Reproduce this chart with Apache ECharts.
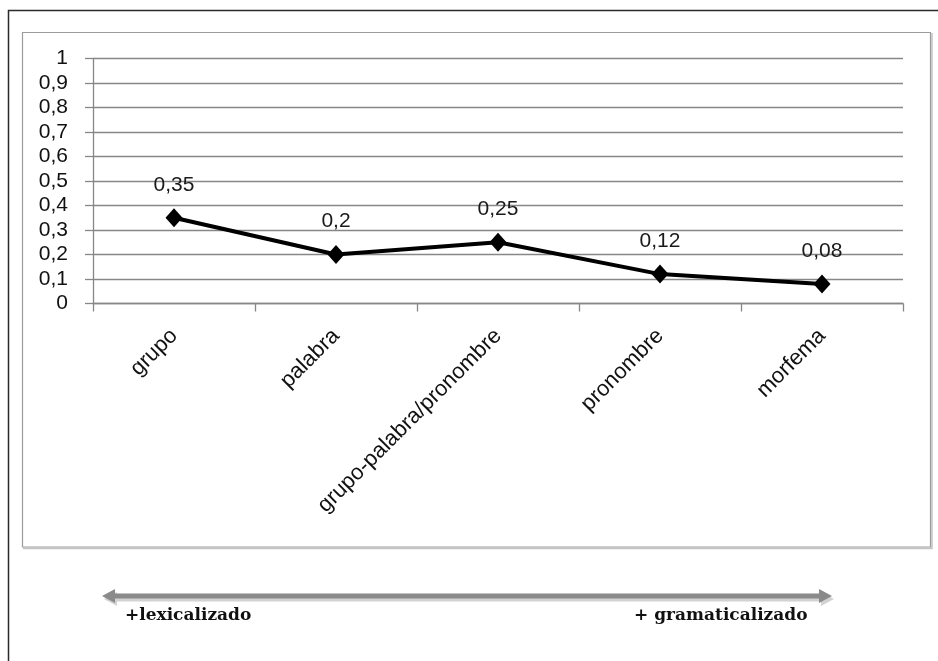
<!DOCTYPE html>
<html>
<head>
<meta charset="utf-8">
<script src="https://cdn.jsdelivr.net/npm/echarts@6/dist/echarts.min.js"></script>
<style>
  html, body { margin: 0; padding: 0; background: #fff; }
  #chart { width: 938px; height: 661px; }
</style>
</head>
<body>
<div id="chart"></div>
<script>
// Categories along the lexical → grammatical scale
const categories = ['grupo', 'palabra', 'grupo-palabra/pronombre', 'pronombre', 'morfema'];
// Proportion for each category
const values = [0.35, 0.2, 0.25, 0.12, 0.08];
// Value axis range and step
const yMin = 0;
const yMax = 1;
const yStep = 0.1;
// Captions under the scale arrow
const scaleLeftText = '+lexicalizado';
const scaleRightText = '+ gramaticalizado';

const comma = v => String(parseFloat(Number(v).toFixed(2))).replace('.', ',');

const FONT = '"Liberation Sans", Arial, sans-serif';
const GRID_COLOR = '#878787';

const chart = echarts.init(document.getElementById('chart'), null, { renderer: 'canvas' });

chart.setOption({
  animation: false,
  backgroundColor: '#ffffff',
  grid: { left: 93, right: 35, top: 58.5, bottom: 357.5 },
  xAxis: {
    type: 'category',
    data: categories,
    boundaryGap: true,
    axisLine: { show: true, lineStyle: { color: GRID_COLOR, width: 1.3 } },
    axisTick: { show: true, alignWithLabel: false, length: 8, lineStyle: { color: GRID_COLOR, width: 1.3 } },
    axisLabel: {
      rotate: 45,
      margin: 29,
      interval: 0,
      color: '#111',
      fontFamily: FONT,
      fontSize: 22
    }
  },
  yAxis: {
    type: 'value',
    min: yMin,
    max: yMax,
    interval: yStep,
    axisLine: { show: true, lineStyle: { color: GRID_COLOR, width: 1.3 } },
    axisTick: { show: true, length: 8, lineStyle: { color: GRID_COLOR, width: 1.3 } },
    splitLine: { show: true, lineStyle: { color: GRID_COLOR, width: 1.3 } },
    axisLabel: {
      margin: 25,
      color: '#111',
      fontFamily: FONT,
      fontSize: 21,
      formatter: v => comma(v)
    }
  },
  series: [{
    type: 'line',
    data: values,
    symbol: 'diamond',
    symbolSize: [17, 19],
    lineStyle: { color: '#000', width: 4 },
    itemStyle: { color: '#000' },
    label: {
      show: true,
      position: 'top',
      distance: 13,
      color: '#1a1a1a',
      fontFamily: FONT,
      fontSize: 21,
      formatter: p => comma(p.value)
    },
    z: 5
  }],
  graphic: [
    // outer page frame (top and left edges)
    {
      type: 'polyline',
      shape: { points: [[938, 10.5], [8.5, 10.5], [8.5, 661]] },
      style: { stroke: '#2a2a2a', lineWidth: 1.5, fill: null },
      silent: true
    },
    // chart area border with a soft shadow on the right and bottom
    {
      type: 'polyline',
      shape: { points: [[932, 33], [932, 548.5], [23, 548.5]] },
      style: { stroke: '#c4c4c4', lineWidth: 1.5, fill: null },
      silent: true
    },
    {
      type: 'rect',
      shape: { x: 22.5, y: 32.5, width: 908, height: 514.5 },
      style: { stroke: '#9c9c9c', lineWidth: 1.2, fill: null },
      silent: true
    },
    // double-headed scale arrow: shadow then body
    {
      type: 'polygon',
      shape: {
        points: [[104, 599], [117, 592], [117, 596.5], [821, 596.5], [821, 592], [834, 599], [821, 606], [821, 601.5], [117, 601.5], [117, 606]]
      },
      style: { fill: '#d2d2d2' },
      silent: true
    },
    {
      type: 'polygon',
      shape: {
        points: [[102, 596], [115, 589], [115, 593.5], [819, 593.5], [819, 589], [832, 596], [819, 603], [819, 598.5], [115, 598.5], [115, 603]]
      },
      style: { fill: '#8a8a8a' },
      silent: true
    },
    {
      type: 'text',
      left: 125,
      top: 607,
      style: {
        text: scaleLeftText,
        fill: '#111',
        font: 'bold 17px "DejaVu Serif", "Liberation Serif", serif'
      },
      silent: true
    },
    {
      type: 'text',
      left: 634,
      top: 607,
      style: {
        text: scaleRightText,
        fill: '#111',
        font: 'bold 17px "DejaVu Serif", "Liberation Serif", serif'
      },
      silent: true
    }
  ]
});
</script>
</body>
</html>
